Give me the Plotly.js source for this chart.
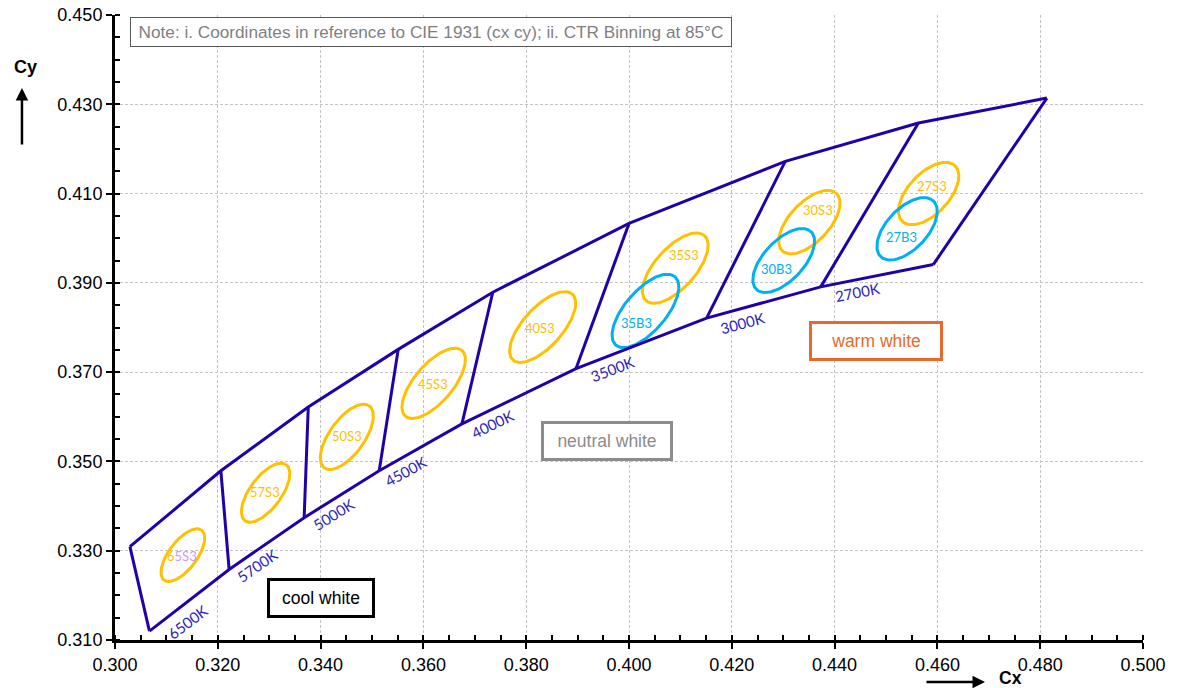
<!DOCTYPE html>
<html>
<head>
<meta charset="utf-8">
<script src="https://cdn.plot.ly/plotly-3.0.1.min.js"></script>
<style>html,body{margin:0;padding:0;background:#fff;}#chart{width:1178px;height:688px;}</style>
</head>
<body>
<div id="chart"></div>
<script>
// ---- Bin quadrangle corner points (CIE 1931 cx, cy) ----
const topX = [0.3029, 0.3206, 0.3376, 0.3551, 0.3735, 0.4000, 0.4304, 0.4563, 0.4813];
const topY = [0.3309, 0.3479, 0.3622, 0.3751, 0.3879, 0.4033, 0.4172, 0.4258, 0.4314];
const botX = [0.3067, 0.3222, 0.3368, 0.3514, 0.3675, 0.3897, 0.4151, 0.4373, 0.4592];
const botY = [0.3120, 0.3258, 0.3374, 0.3479, 0.3584, 0.3708, 0.3821, 0.3891, 0.3941];

// ---- CCT labels along the lower boundary ----
const cctLabels = ['6500K', '5700K', '5000K', '4500K', '4000K', '3500K', '3000K', '2700K'];
const cctLabelX = [0.3141, 0.3278, 0.3426, 0.3566, 0.3734, 0.3967, 0.4220, 0.4444];
const cctLabelY = [0.3141, 0.3267, 0.3383, 0.3479, 0.3584, 0.3707, 0.3810, 0.3879];
const cctAngle = [-37, -35, -32, -29, -26, -21, -15, -11];

// ---- S3 ellipses (3-step MacAdam) ----
const s3Names = ['65S3', '57S3', '50S3', '45S3', '40S3', '35S3', '30S3', '27S3'];
const s3CX = [0.3132, 0.3293, 0.3451, 0.3620, 0.3832, 0.4090, 0.4351, 0.4583];
const s3CY = [0.3290, 0.3430, 0.3555, 0.3675, 0.3801, 0.3933, 0.4036, 0.4100];
const s3A = [0.00669, 0.00746, 0.00822, 0.00921, 0.00939, 0.00927, 0.00834, 0.00810];
const s3B = [0.00285, 0.00320, 0.00354, 0.00390, 0.00402, 0.00414, 0.00408, 0.00420];
const s3Theta = [58.57, 59.09, 59.62, 55.0, 53.72, 54.0, 53.22, 53.7];
const s3LabelX = [0.3131, 0.3292, 0.3452, 0.3618, 0.3827, 0.4107, 0.4368, 0.4589];
const s3LabelY = [0.3288, 0.3431, 0.3558, 0.3673, 0.3800, 0.3962, 0.4064, 0.4118];

// ---- B3 ellipses ----
const b3Names = ['35B3', '30B3', '27B3'];
const b3CX = [0.4032, 0.4301, 0.4541];
const b3CY = [0.3837, 0.3950, 0.4021];
const b3A = [0.00960, 0.00840, 0.00810];
const b3B = [0.00420, 0.00410, 0.00420];
const b3Theta = [55.0, 53.2, 53.7];
const b3LabelX = [0.4015, 0.4287, 0.4531];
const b3LabelY = [0.3810, 0.3930, 0.4002];

// ---- Axis ticks ----
const xTicks = [0.30, 0.32, 0.34, 0.36, 0.38, 0.40, 0.42, 0.44, 0.46, 0.48, 0.50];
const yTicks = [0.31, 0.33, 0.35, 0.37, 0.39, 0.41, 0.43, 0.45];

const BOX = '#2200A8';
const S3C = '#FFC000';
const B3C = '#00B0F0';

function ellipse(cx, cy, a, b, thDeg) {
  const th = thDeg * Math.PI / 180, xs = [], ys = [];
  for (let i = 0; i <= 120; i++) {
    const t = 2 * Math.PI * i / 120;
    xs.push(cx + a * Math.cos(t) * Math.cos(th) - b * Math.sin(t) * Math.sin(th));
    ys.push(cy + a * Math.cos(t) * Math.sin(th) + b * Math.sin(t) * Math.cos(th));
  }
  return {xs, ys};
}

const traces = [];
for (let i = 0; i < s3Names.length; i++) {
  const e = ellipse(s3CX[i], s3CY[i], s3A[i], s3B[i], s3Theta[i]);
  traces.push({x: e.xs, y: e.ys, type: 'scatter', mode: 'lines', line: {color: S3C, width: 3}, hoverinfo: 'skip'});
}
for (let i = 0; i < b3Names.length; i++) {
  const e = ellipse(b3CX[i], b3CY[i], b3A[i], b3B[i], b3Theta[i]);
  traces.push({x: e.xs, y: e.ys, type: 'scatter', mode: 'lines', line: {color: B3C, width: 3}, hoverinfo: 'skip'});
}
traces.push({x: topX, y: topY, type: 'scatter', mode: 'lines', line: {color: BOX, width: 3}, hoverinfo: 'skip'});
traces.push({x: botX, y: botY, type: 'scatter', mode: 'lines', line: {color: BOX, width: 3}, hoverinfo: 'skip'});
const dx = [], dy = [];
for (let i = 0; i < topX.length; i++) {
  dx.push(topX[i], botX[i], null);
  dy.push(topY[i], botY[i], null);
}
traces.push({x: dx, y: dy, type: 'scatter', mode: 'lines', line: {color: BOX, width: 3}, hoverinfo: 'skip'});
traces.push({x: [0.3], y: [0.31], xaxis: 'x2', yaxis: 'y2', type: 'scatter', mode: 'markers', marker: {opacity: 0}, hoverinfo: 'skip'});

const ann = [];
const lab = {family: 'Lato, Carlito, Calibri, sans-serif', size: 13};
for (let i = 0; i < s3Names.length; i++) {
  let txt = s3Names[i];
  if (txt === '65S3') txt = '<span style="color:' + S3C + '">6</span><span style="color:#CC99FF">5S3</span>';
  ann.push({x: s3LabelX[i], y: s3LabelY[i], text: txt, showarrow: false, font: Object.assign({color: S3C}, lab)});
}
for (let i = 0; i < b3Names.length; i++) {
  ann.push({x: b3LabelX[i], y: b3LabelY[i], text: b3Names[i], showarrow: false, font: Object.assign({color: B3C}, lab)});
}
for (let i = 0; i < cctLabels.length; i++) {
  ann.push({x: cctLabelX[i], y: cctLabelY[i], text: cctLabels[i], showarrow: false, textangle: cctAngle[i],
    font: {family: 'Lato, Carlito, Calibri, sans-serif', size: 15, color: '#2B22C0'}});
}
const arial = 'Liberation Sans, Arial, sans-serif';
ann.push({x: 0.33998, y: 0.31934, text: 'cool white', showarrow: false, font: {family: arial, size: 17.5, color: '#000'},
  bgcolor: '#fff', bordercolor: '#000', borderwidth: 3, borderpad: 4, width: 94, height: 26});
ann.push({x: 0.39572, y: 0.35458, text: 'neutral white', showarrow: false, font: {family: arial, size: 17.5, color: '#8c8c8c'},
  bgcolor: '#fff', bordercolor: '#8c8c8c', borderwidth: 3, borderpad: 4, width: 118, height: 26});
ann.push({x: 0.44815, y: 0.37693, text: 'warm white', showarrow: false, font: {family: arial, size: 17.5, color: '#E9692A'},
  bgcolor: '#fff', bordercolor: '#E9692A', borderwidth: 3, borderpad: 4, width: 120, height: 26});
ann.push({xref: 'paper', yref: 'paper', x: 0.0146, y: 0.9968, xanchor: 'left', yanchor: 'top',
  text: 'Note: i. Coordinates in reference to CIE 1931 (cx cy); ii. CTR Binning at 85°C', showarrow: false,
  font: {family: arial, size: 17.2, color: '#7f7f7f'}, bgcolor: '#fff', bordercolor: '#595959', borderwidth: 1, borderpad: 4,
  width: 592, height: 20, align: 'center'});
ann.push({xref: 'paper', yref: 'paper', x: -0.0875, y: 0.9168, xanchor: 'center', yanchor: 'middle', text: '<b>Cy</b>', showarrow: false,
  font: {family: arial, size: 18, color: '#000'}});
ann.push({xref: 'paper', yref: 'paper', x: -0.0905, y: 0.8832, text: '', showarrow: true, ax: 0, ay: 58,
  arrowhead: 2, arrowsize: 1, arrowwidth: 2.5, arrowcolor: '#000'});
ann.push({xref: 'paper', yref: 'paper', x: 0.8715, y: -0.0784, xanchor: 'center', yanchor: 'bottom', text: '<b>Cx</b>', showarrow: false,
  borderpad: 0, font: {family: arial, size: 17.5, color: '#000'}});
ann.push({xref: 'paper', yref: 'paper', x: 0.8463, y: -0.0672, text: '', showarrow: true, ax: -60, ay: 0,
  arrowhead: 2, arrowsize: 1, arrowwidth: 2.5, arrowcolor: '#000'});

const tickFont = {family: arial, size: 18, color: '#000'};
const layout = {
  width: 1178, height: 688,
  margin: {l: 115, r: 35, t: 15, b: 48},
  paper_bgcolor: '#fff', plot_bgcolor: '#fff',
  showlegend: false,
  xaxis: {range: [0.3, 0.5], tickvals: xTicks, ticktext: xTicks.map(v => v.toFixed(3)),
    showline: true, linewidth: 3, linecolor: '#000', ticks: 'outside', ticklen: 6, tickwidth: 2, tickcolor: '#000',
    showgrid: true, gridcolor: '#c4c4c4', griddash: '3px,2px', gridwidth: 1, zeroline: false,
    tickfont: tickFont,
    minor: {dtick: 0.005, tick0: 0.3, ticks: 'inside', ticklen: 5, tickwidth: 2, tickcolor: '#000', showgrid: false}},
  yaxis: {range: [0.31, 0.45], tickvals: yTicks, ticktext: yTicks.map(v => v.toFixed(3)),
    showline: true, linewidth: 3, linecolor: '#000', ticks: 'outside', ticklen: 6, tickwidth: 2, tickcolor: '#000',
    showgrid: true, gridcolor: '#c4c4c4', griddash: '3px,2px', gridwidth: 1, zeroline: false,
    tickfont: tickFont,
    minor: {dtick: 0.005, tick0: 0.31, ticks: 'inside', ticklen: 5, tickwidth: 2, tickcolor: '#000', showgrid: false}},
  xaxis2: {overlaying: 'x', range: [0.3, 0.5], tickvals: xTicks, showticklabels: false, ticks: 'inside', ticklen: 5,
    tickwidth: 2, tickcolor: '#000', showgrid: false, zeroline: false, showline: false, anchor: 'y2', side: 'bottom'},
  yaxis2: {overlaying: 'y', range: [0.31, 0.45], tickvals: yTicks, showticklabels: false, ticks: 'inside', ticklen: 5,
    tickwidth: 2, tickcolor: '#000', showgrid: false, zeroline: false, showline: false, anchor: 'x2', side: 'left'},
  annotations: ann
};

Plotly.newPlot('chart', traces, layout, {displayModeBar: false, staticPlot: true});
</script>
</body>
</html>
